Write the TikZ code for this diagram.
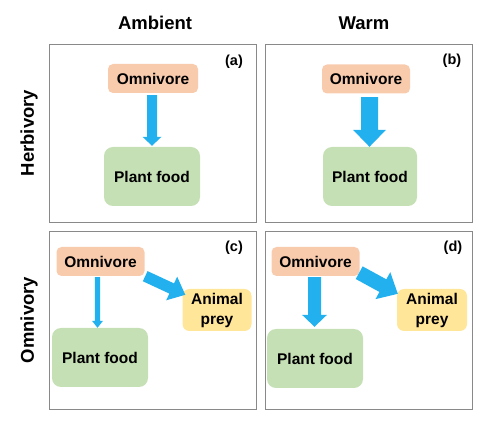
\documentclass[tikz,border=0pt]{standalone}
\usepackage{fontspec}
\setmainfont{Liberation Sans}
\usetikzlibrary{calc}
\definecolor{omc}{HTML}{F8CBAD}
\definecolor{plc}{HTML}{C5E0B4}
\definecolor{prc}{HTML}{FFE699}
\definecolor{arrowc}{HTML}{22B0EE}
\definecolor{framec}{HTML}{898989}
\tikzset{
 panel/.style={draw=framec, line width=0.9pt, inner sep=0pt},
 box/.style={inner sep=0pt, align=center, font=\fontsize{15.5}{20}\selectfont\bfseries},
 omni/.style={box, fill=omc, rounded corners=5pt, minimum width=88pt, minimum height=29pt},
 plant/.style={box, fill=plc, rounded corners=9pt, minimum width=96pt, minimum height=59pt},
 prey/.style={box, fill=prc, rounded corners=7pt, minimum width=69pt, minimum height=42pt},
 title/.style={font=\fontsize{18.5}{22}\selectfont\bfseries},
 tag/.style={font=\fontsize{14.5}{17}\selectfont\bfseries},
}
\newcommand\blockarrow[5]{%
 \coordinate (ba-c) at ($(#2)!#5!(#1)$);
 \fill[arrowc] ($(#1)!#3!90:(#2)$) -- ($(ba-c)!#3!90:(#2)$) -- ($(ba-c)!#4!90:(#2)$) -- (#2)
   -- ($(ba-c)!#4!-90:(#2)$) -- ($(ba-c)!#3!-90:(#2)$) -- ($(#1)!#3!-90:(#2)$) -- cycle;}
\begin{document}
\begin{tikzpicture}[x=1pt,y=-1pt]
\useasboundingbox (0,0) rectangle (504,446);
% titles
\node[title] (tamb) at (155,23) {Ambient};
\node[title] (twarm) at (364,23) {Warm};
\node[title, rotate=90] (therb) at (29,133) {Herbivory};
\node[title, rotate=90] (tomni) at (29,320) {Omnivory};
% panels
\node[panel, minimum width=207pt, minimum height=178pt] (pa) at (152.5,133) {};
\node[panel, minimum width=207pt, minimum height=178pt] (pb) at (369,133) {};
\node[panel, minimum width=207pt, minimum height=178pt] (pc) at (152.5,320) {};
\node[panel, minimum width=207pt, minimum height=178pt] (pd) at (369,320) {};
\node[tag] (ta) at (234,62) {(a)};
\node[tag] (tb) at (452,61) {(b)};
\node[tag] (tc) at (234,248) {(c)};
\node[tag] (td) at (453,248) {(d)};
% panel a
\node[omni, minimum width=90pt] (oa) at (153,78.5) {Omnivore};
\node[plant] (pfa) at (152,176.5) {Plant food};
% panel b
\node[omni] (ob) at (366,79) {Omnivore};
\node[plant, minimum width=94pt] (pfb) at (370,176.5) {Plant food};
% panel c
\node[omni] (oc) at (100.5,261.5) {Omnivore};
\node[plant] (pfc) at (100,357.5) {Plant food};
\node[prey] (prc) at (217,310) {Animal\\prey};
% panel d
\node[omni] (od) at (315.5,261.5) {Omnivore};
\node[plant] (pfd) at (315,358.5) {Plant food};
\node[prey, minimum width=70pt] (prd) at (432,310) {Animal\\prey};
% arrow end points
\coordinate (as) at ([xshift=-1pt,yshift=-2pt]oa.south);
\coordinate (ae) at ([yshift=1pt]pfa.north);
\coordinate (bs) at ([xshift=3.5pt,yshift=-3.5pt]ob.south);
\coordinate (be) at ([xshift=-0.5pt]pfb.north);
\coordinate (cs) at ([xshift=-3pt,yshift=-1pt]oc.south);
\coordinate (ce) at ([xshift=-2.5pt]pfc.north);
\coordinate (cds) at ([xshift=0.5pt]oc.south east);
\coordinate (cde) at ([xshift=3pt,yshift=-6pt]prc.north west);
\coordinate (ds) at ([xshift=-1pt,yshift=-1pt]od.south);
\coordinate (de) at ([xshift=-0.5pt,yshift=2pt]pfd.north);
\coordinate (dds) at ([xshift=-0.5pt,yshift=3.5pt]od.south east);
\coordinate (dde) at ([xshift=1pt,yshift=-5pt]prd.north west);
% arrows
\blockarrow{as}{ae}{5pt}{9.5pt}{9pt}
\blockarrow{bs}{be}{8.5pt}{16.5pt}{17pt}
\blockarrow{cs}{ce}{2.7pt}{5.5pt}{7pt}
\blockarrow{cds}{cde}{5.6pt}{13pt}{15pt}
\blockarrow{ds}{de}{6.5pt}{12.5pt}{12pt}
\blockarrow{dds}{dde}{7.2pt}{15.4pt}{17pt}
\end{tikzpicture}
\end{document}
